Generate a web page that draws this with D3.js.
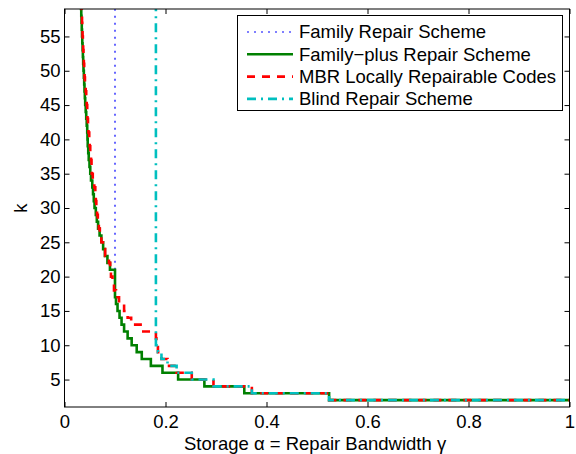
<!DOCTYPE html>
<html>
<head>
<meta charset="utf-8">
<script src="https://cdn.jsdelivr.net/npm/d3@7"></script>
<style>
  body { margin: 0; background: #fff; }
  svg { display: block; }
  text { font-family: "Liberation Sans", Arial, Helvetica, sans-serif; fill: #000; }
</style>
</head>
<body>
<div class="canvas"></div>
<script>
// levels of k (one horizontal step each)
const kLevels = [2, 3, 4, 5, 6, 7, 8, 9, 10, 11, 12, 13, 14, 15, 16, 17, 18, 19, 20,
  21, 22, 23, 24, 25, 26, 27, 28, 29, 30, 31, 32, 33, 34, 35, 36, 37, 38, 39, 40,
  41, 42, 43, 44, 45, 46, 47, 48, 49, 50, 51, 52, 53, 54, 55, 56, 57, 58, 59, 60];

// storage alpha where each k-level starts
const familyPlusAlpha = [0.524, 0.356, 0.277, 0.225, 0.194, 0.171, 0.153, 0.143, 0.133, 0.125,
  0.118, 0.113, 0.109, 0.105, 0.102, 0.100, 0.100, 0.100, 0.100,
  0.090, 0.085, 0.080, 0.0765, 0.073, 0.0695, 0.0665, 0.064, 0.062, 0.0595, 0.058,
  0.0565, 0.055, 0.0525, 0.051, 0.0495, 0.048, 0.047, 0.046, 0.0455, 0.045,
  0.044, 0.043, 0.042, 0.041, 0.0403, 0.0396, 0.039, 0.0383, 0.0376, 0.037,
  0.0364, 0.0358, 0.0352, 0.0347, 0.0342, 0.0337, 0.0332, 0.0327, 0.0322];

const mbrAlpha = [0.524, 0.371, 0.295, 0.252, 0.222, 0.204, 0.192, 0.185, 0.182, 0.181,
  0.156, 0.132, 0.125, 0.118, 0.108, 0.102, 0.098, 0.095, 0.092,
  0.0905, 0.088, 0.0805, 0.076, 0.073, 0.070, 0.068, 0.066, 0.0645, 0.063, 0.062,
  0.061, 0.059, 0.056, 0.054, 0.0535, 0.0525, 0.051, 0.050, 0.049, 0.0475,
  0.0465, 0.0455, 0.045, 0.044, 0.043, 0.042, 0.0405, 0.0398, 0.039, 0.0383,
  0.0376, 0.037, 0.0364, 0.0357, 0.0352, 0.0347, 0.0343, 0.0339, 0.0335];

const blindK = [2, 3, 4, 5, 6, 7, 8, 9, 10, 60];
const blindAlpha = [0.524, 0.371, 0.295, 0.252, 0.222, 0.204, 0.192, 0.185, 0.181, 0.181];

const familyK = [21, 60];
const familyAlpha = [0.1, 0.1];

const xTicks = [0, 0.2, 0.4, 0.6, 0.8, 1];
const xTickLabels = ['0', '0.2', '0.4', '0.6', '0.8', '1'];
const yTicks = [5, 10, 15, 20, 25, 30, 35, 40, 45, 50, 55];

const legendNames = ['Family Repair Scheme', 'Family\u2212plus Repair Scheme',
  'MBR Locally Repairable Codes', 'Blind Repair Scheme'];

const width = 576;
const height = 454;
const plot = {left: 64.5, right: 569.5, top: 9, bottom: 407};
const fontSize = 18.5;

const svg = d3.select('.canvas').append('svg')
  .attr('width', width)
  .attr('height', height);

const x = d3.scaleLinear().domain([0, 1]).range([plot.left, plot.right]);
const y = d3.scaleLinear().domain([1, 59]).range([plot.bottom, plot.top]);

svg.append('clipPath').attr('id', 'clip')
  .append('rect')
  .attr('x', plot.left).attr('y', plot.top)
  .attr('width', plot.right - plot.left).attr('height', plot.bottom - plot.top);

// build staircase points, alpha ascending, ending at alpha = 1
function stairs(ks, alphas) {
  const pts = ks.map((k, i) => ({a: alphas[i], k}));
  pts.sort((p, q) => d3.ascending(p.a, q.a) || d3.descending(p.k, q.k));
  pts.push({a: 1, k: ks[0]});
  return pts;
}

const stepLine = d3.line().x(d => x(d.a)).y(d => y(d.k)).curve(d3.curveStepAfter);
const plainLine = d3.line().x(d => x(d.a)).y(d => y(d.k));

const series = [
  {name: legendNames[0], color: '#0000ff', width: 1.2, dash: '2,5',
    path: plainLine(familyK.map((k, i) => ({a: familyAlpha[i], k})))},
  {name: legendNames[1], color: '#008000', width: 2.6, dash: null,
    path: stepLine(stairs(kLevels, familyPlusAlpha))},
  {name: legendNames[2], color: '#ff0000', width: 2.6, dash: '8,7',
    path: stepLine(stairs(kLevels, mbrAlpha))},
  {name: legendNames[3], color: '#00bfbf', width: 2.6, dash: '9,5,2,5',
    path: stepLine(stairs(blindK, blindAlpha))}
];

const g = svg.append('g').attr('clip-path', 'url(#clip)');
g.selectAll('path.series')
  .data(series)
  .join('path')
  .attr('class', 'series')
  .attr('d', d => d.path)
  .attr('fill', 'none')
  .attr('stroke', d => d.color)
  .attr('stroke-width', d => d.width)
  .attr('stroke-dasharray', d => d.dash);

// axes with inward ticks on all four sides
function styleAxis(sel) {
  sel.select('.domain').remove();
  sel.selectAll('line').attr('stroke', '#000');
  sel.selectAll('text').attr('font-size', fontSize)
    .attr('font-family', '"Liberation Sans", Arial, sans-serif');
}

svg.append('g')
  .attr('transform', `translate(0,${plot.bottom})`)
  .call(d3.axisBottom(x).tickValues(xTicks).tickSize(-5).tickPadding(8)
    .tickFormat((d, i) => xTickLabels[i]))
  .call(styleAxis);

svg.append('g')
  .attr('transform', `translate(0,${plot.top})`)
  .call(d3.axisTop(x).tickValues(xTicks).tickSize(-5).tickFormat(''))
  .call(styleAxis);

svg.append('g')
  .attr('transform', `translate(${plot.left},0)`)
  .call(d3.axisLeft(y).tickValues(yTicks).tickSize(-5).tickPadding(4))
  .call(styleAxis);

svg.append('g')
  .attr('transform', `translate(${plot.right},0)`)
  .call(d3.axisRight(y).tickValues(yTicks).tickSize(-5).tickFormat(''))
  .call(styleAxis);

svg.append('rect')
  .attr('x', plot.left).attr('y', plot.top)
  .attr('width', plot.right - plot.left).attr('height', plot.bottom - plot.top)
  .attr('fill', 'none').attr('stroke', '#000').attr('stroke-width', 1);

// axis labels
svg.append('text')
  .attr('x', 184).attr('y', 450)
  .attr('font-size', fontSize)
  .text('Storage \u03b1 = Repair Bandwidth \u03b3');

svg.append('text')
  .attr('transform', `translate(27,${(plot.top + plot.bottom) / 2}) rotate(-90)`)
  .attr('text-anchor', 'middle')
  .attr('font-size', fontSize)
  .text('k');

// legend
const legend = svg.append('g').attr('transform', 'translate(237.5,15.5)');
legend.append('rect')
  .attr('width', 325).attr('height', 95)
  .attr('fill', '#fff').attr('stroke', '#000').attr('stroke-width', 1);

const item = legend.selectAll('g.item')
  .data(series)
  .join('g')
  .attr('class', 'item')
  .attr('transform', (d, i) => `translate(0,${16.5 + i * 22.3})`);

item.append('line')
  .attr('x1', 9.5).attr('x2', 55.5)
  .attr('stroke', d => d.color)
  .attr('stroke-width', d => d.width)
  .attr('stroke-dasharray', d => d.dash);

item.append('text')
  .attr('x', 61.5).attr('dy', '0.35em')
  .attr('font-size', fontSize)
  .text(d => d.name);
</script>
</body>
</html>
